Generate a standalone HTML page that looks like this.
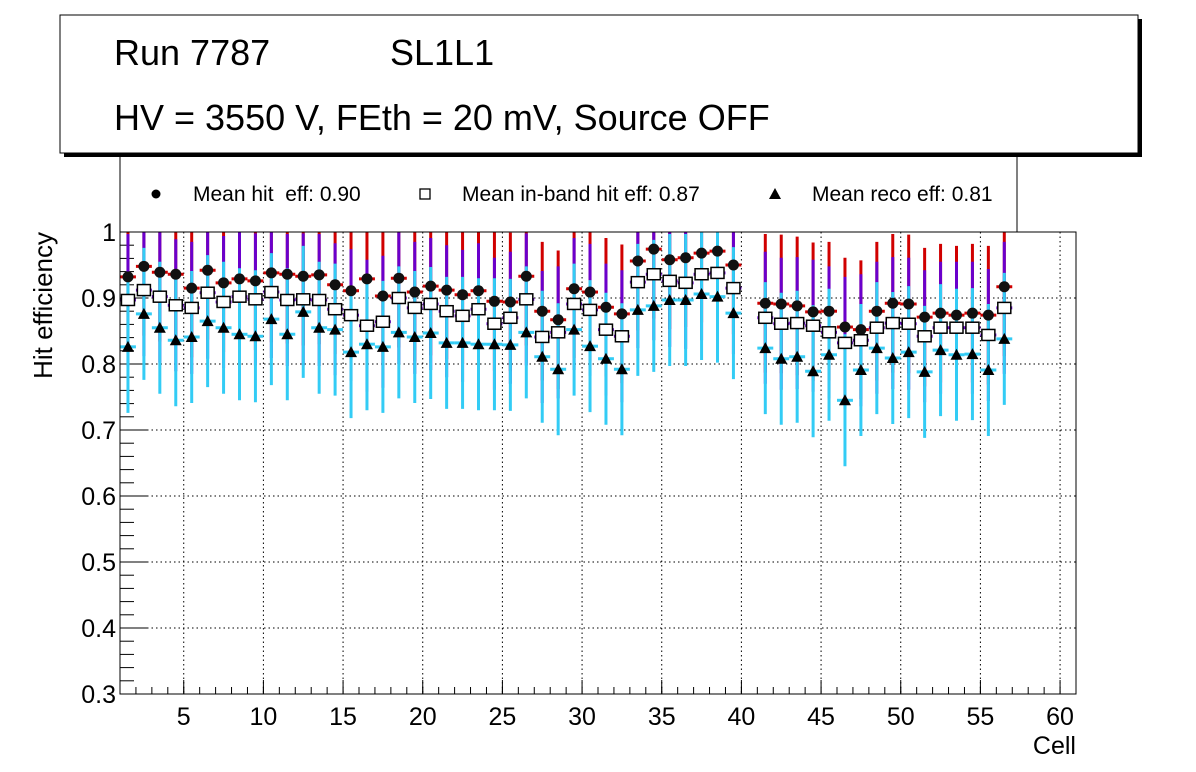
<!DOCTYPE html>
<html><head><meta charset="utf-8"><style>
html,body{margin:0;padding:0;background:#fff;}
svg{display:block;font-family:"Liberation Sans",sans-serif;}
</style></head><body>
<svg id="chart" width="1196" height="772" xmlns="http://www.w3.org/2000/svg">
  <rect x="0" y="0" width="1196" height="772" fill="#fff"/>
  <g id="legend">
    <rect x="120" y="140" width="897" height="92" fill="#fff" stroke="#000" stroke-width="1"/>
    <circle cx="156" cy="194" r="4.5" fill="#000"/>
    <text x="193" y="201" font-size="21" xml:space="preserve">Mean hit  eff: 0.90</text>
    <rect x="420" y="189" width="10" height="10" fill="#fff" stroke="#000" stroke-width="1.3"/>
    <text x="462" y="201" font-size="21">Mean in-band hit eff: 0.87</text>
    <polygon points="775,188 781,199 769,199" fill="#000"/>
    <text x="812" y="201" font-size="21">Mean reco eff: 0.81</text>
  </g>
  <g id="titlebox">
    <rect x="64" y="19" width="1078" height="138" fill="#000"/>
    <rect x="60" y="15" width="1078" height="138" fill="#fff" stroke="#000" stroke-width="1"/>
    <text x="114" y="65" font-size="36">Run 7787</text>
    <text x="390" y="65" font-size="36">SL1L1</text>
    <text x="114" y="130" font-size="36">HV = 3550 V, FEth = 20 mV, Source OFF</text>
  </g>
  <g id="axes"></g>
  <g id="marks"></g>
  <rect x="120" y="232" width="956" height="462" fill="none" stroke="#000" stroke-width="1"/>
  <text x="1076" y="754" font-size="25" text-anchor="end">Cell</text>
  <text transform="translate(52,232) rotate(-90)" font-size="26" text-anchor="end">Hit efficiency</text>
</svg>
<script>
const cells = [1,2,3,4,5,6,7,8,9,10,11,12,13,14,15,16,17,18,19,20,21,22,23,24,25,26,27,28,29,30,31,32,33,34,35,36,37,38,39,41,42,43,44,45,46,47,48,49,50,51,52,53,54,55,56];
const hitEff = [.932,.948,.939,.936,.915,.942,.923,.929,.926,.938,.936,.933,.935,.920,.911,.929,.903,.930,.909,.918,.912,.905,.911,.895,.894,.933,.880,.867,.914,.909,.886,.876,.956,.974,.958,.961,.968,.971,.950,.892,.891,.888,.879,.880,.856,.852,.880,.892,.891,.871,.877,.874,.877,.874,.917];
const inbandEff = [.897,.912,.902,.889,.885,.908,.894,.902,.898,.909,.897,.898,.897,.883,.874,.858,.864,.900,.885,.891,.880,.873,.883,.861,.870,.898,.841,.848,.891,.882,.852,.842,.924,.936,.926,.923,.936,.938,.915,.870,.861,.862,.858,.848,.832,.836,.855,.862,.861,.842,.855,.855,.855,.844,.885];
const recoEff = [.826,.876,.855,.836,.841,.865,.855,.845,.842,.868,.845,.879,.855,.852,.818,.830,.826,.848,.841,.847,.832,.832,.830,.830,.829,.848,.811,.792,.852,.827,.808,.792,.882,.888,.897,.897,.906,.902,.877,.824,.808,.811,.789,.814,.745,.791,.824,.809,.818,.788,.821,.814,.815,.791,.838];
const hitErr = 0.105;
const inbandErr = 0.1;
const recoErr = 0.1;
const yTicks = [0.3,0.4,0.5,0.6,0.7,0.8,0.9,1];
const yTickLabels = ["0.3","0.4","0.5","0.6","0.7","0.8","0.9","1"];
const xTicks = [5,10,15,20,25,30,35,40,45,50,55,60];

const X0=120,X1=1076,Y0=232,Y1=694,XMIN=1,XMAX=61,YMIN=0.3,YMAX=1;
const sx=v=>X0+(v-XMIN)/(XMAX-XMIN)*(X1-X0);
const sy=v=>Y1-(v-YMIN)/(YMAX-YMIN)*(Y1-Y0);
const NS="http://www.w3.org/2000/svg";
function mk(tag,attrs,parent){const e=document.createElementNS(NS,tag);for(const k in attrs)e.setAttribute(k,attrs[k]);parent.appendChild(e);return e;}
const axes=document.getElementById('axes'), marks=document.getElementById('marks');
yTicks.forEach((t,i)=>{
  const y=sy(t);
  if(t>YMIN&&t<YMAX){const g=mk('line',{x1:X0,x2:X1,y1:y,y2:y,stroke:'#000','stroke-width':1,'stroke-dasharray':'1.5,3'},axes);
  
  }
  mk('line',{x1:X0,x2:X0+28,y1:y,y2:y,stroke:'#000'},axes);
  const tx=mk('text',{x:X0-4,y:y+9,'font-size':25,'text-anchor':'end'},axes);
  tx.textContent=yTickLabels[i];
  
  
});
for(let v=YMIN;v<YMAX-1e-6;v+=0.02){const y=sy(v);mk('line',{x1:X0,x2:X0+14,y1:y,y2:y,stroke:'#000'},axes);}
xTicks.forEach(t=>{
  const x=sx(t);
  const g=mk('line',{x1:x,x2:x,y1:Y0,y2:Y1,stroke:'#000','stroke-width':1,'stroke-dasharray':'1.5,3'},axes);
  
  
  mk('line',{x1:x,x2:x,y1:Y1,y2:Y1-14,stroke:'#000'},axes);
  const tx=mk('text',{x:x,y:Y1+31,'font-size':25,'text-anchor':'middle'},axes);
  tx.textContent=String(t);
  
  
});
for(let v=XMIN;v<=XMAX;v++){const x=sx(v);mk('line',{x1:x,x2:x,y1:Y1,y2:Y1-7,stroke:'#000'},axes);}
const clip=v=>Math.max(Y0,Math.min(Y1,v));
function errs(vals,err,color,name){
  vals.forEach((v,i)=>{
    const xc=sx(cells[i]+0.5);
    const g=mk('g',{},marks);
    
    
    mk('line',{x1:xc,x2:xc,y1:clip(sy(v+err)),y2:clip(sy(v-err)),stroke:color,'stroke-width':3},g);
    mk('line',{x1:sx(cells[i]),x2:sx(cells[i]+1),y1:sy(v),y2:sy(v),stroke:color,'stroke-width':3},g);
  });
}
errs(hitEff,hitErr,'#d00000','hit');
errs(inbandEff,inbandErr,'#6a00cc','inband');
errs(recoEff,recoErr,'#33ccf5','reco');
hitEff.forEach((v,i)=>{const c=mk('circle',{cx:sx(cells[i]+0.5),cy:sy(v),r:5.5,fill:'#111'},marks);
  
  });
inbandEff.forEach((v,i)=>{const r=mk('rect',{x:sx(cells[i]+0.5)-6.5,y:sy(v)-5.5,width:13,height:11,fill:'#fff',stroke:'#000','stroke-width':1.5},marks);
  
  });
recoEff.forEach((v,i)=>{const x=sx(cells[i]+0.5),y=sy(v);const p=mk('polygon',{points:`${x},${y-6} ${x+6},${y+5} ${x-6},${y+5}`,fill:'#000'},marks);
  
  });
</script>
</body></html>
